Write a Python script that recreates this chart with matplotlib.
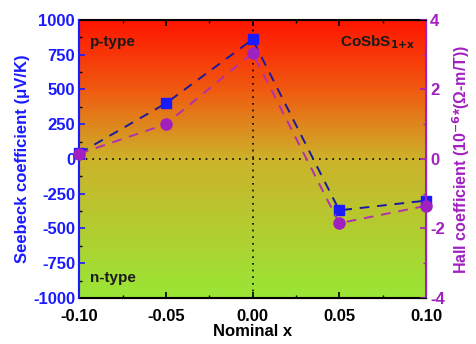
import matplotlib
matplotlib.use("Agg")
import matplotlib.pyplot as plt
import numpy as np
from matplotlib.colors import LinearSegmentedColormap
from matplotlib.ticker import MultipleLocator

plt.rcParams["font.family"] = ["Liberation Sans", "DejaVu Sans"]
plt.rcParams["font.weight"] = "bold"
plt.rcParams["mathtext.default"] = "bf"
plt.rcParams["axes.unicode_minus"] = False

nominal_x = [-0.10, -0.05, 0.00, 0.05, 0.10]
seebeck = [40, 400, 860, -370, -300]
hall = [0.15, 1.0, 3.05, -1.85, -1.35]

blue = "#1a1aff"
dblue = "#1a1aa0"
purple = "#a020c0"
lpurple = "#b030b0"

fig, ax = plt.subplots(figsize=(4.77, 3.44), dpi=100)
fig.subplots_adjust(left=0.166, right=0.893, top=0.942, bottom=0.134)

# background gradient, red on top to green at the bottom
cmap = LinearSegmentedColormap.from_list(
    "bg", [(0.0, "#ff1500"), (0.25, "#f05a10"), (0.5, "#cdb22a"), (1.0, "#9ae636")]
)
grad = np.linspace(0, 1, 256).reshape(-1, 1)
ax.imshow(grad, cmap=cmap, aspect="auto", origin="upper",
          extent=[-0.10, 0.10, -1000, 1000], zorder=0)

ax.axhline(0, color="black", linestyle=(0, (1, 3)), linewidth=1.2, zorder=1)
ax.axvline(0, color="black", linestyle=(0, (1, 3)), linewidth=1.2, zorder=1)

ax.plot(nominal_x, seebeck, linestyle=(0, (5, 4)), color=dblue, linewidth=1.4,
        marker="s", markersize=7, markerfacecolor=blue, markeredgecolor=blue,
        clip_on=False, zorder=3)

ax.set_xlim(-0.10, 0.10)
ax.set_ylim(-1000, 1000)
ax.xaxis.set_major_locator(MultipleLocator(0.05))
ax.xaxis.set_minor_locator(MultipleLocator(0.025))
ax.yaxis.set_major_locator(MultipleLocator(250))
ax.yaxis.set_minor_locator(MultipleLocator(125))
ax.xaxis.set_major_formatter(plt.FuncFormatter(lambda v, p: f"{v:.2f}"))
ax.tick_params(axis="both", which="both", direction="in", top=True)
ax.tick_params(axis="both", which="major", length=4, width=1.2, labelsize=12)
ax.tick_params(axis="both", which="minor", length=2, width=1)
ax.tick_params(axis="y", colors=blue, pad=3)
ax.tick_params(axis="x", colors="black", pad=8)
ax.set_xlabel("Nominal x", fontsize=12, fontweight="bold", labelpad=0)
ax.set_ylabel("Seebeck coefficient (\u03bcV/K)", fontsize=12, fontweight="bold",
              color=blue, labelpad=2)
ax.spines["left"].set_color(blue)
ax.spines["left"].set_linewidth(1.5)
for s in ("top", "bottom"):
    ax.spines[s].set_linewidth(1.5)

ax2 = ax.twinx()
ax2.plot(nominal_x, hall, linestyle=(0, (5, 4)), color=lpurple, linewidth=1.4,
         marker="o", markersize=8, markerfacecolor=purple, markeredgecolor=purple,
         clip_on=False, zorder=3)
ax2.set_ylim(-4, 4)
ax2.yaxis.set_major_locator(MultipleLocator(2))
ax2.yaxis.set_minor_locator(MultipleLocator(1))
ax2.tick_params(axis="y", which="both", direction="in", colors=purple, labelsize=12)
ax2.tick_params(axis="y", which="major", length=4, width=1.2, pad=3)
ax2.tick_params(axis="y", which="minor", length=2, width=1)
ax2.set_ylabel("Hall coefficient (10$^{-6}$*(\u03a9-m/T))", fontsize=11.5,
               fontweight="bold", color=purple, labelpad=4)
ax2.spines["right"].set_color(purple)
ax2.spines["right"].set_linewidth(1.5)
ax2.spines["left"].set_color(blue)
ax2.spines["left"].set_linewidth(1.5)

ax.text(0.03, 0.92, "p-type", transform=ax.transAxes, fontsize=11,
        fontweight="bold", color="#1a1a1a", va="center")
ax.text(0.03, 0.07, "n-type", transform=ax.transAxes, fontsize=11,
        fontweight="bold", color="#1a1a1a", va="center")
ax.text(0.97, 0.92, "CoSbS$_{1{+}x}$", transform=ax.transAxes,
        fontsize=11, fontweight="bold", color="#1a1a1a", va="center", ha="right")

fig.savefig("out.png", dpi=100)
